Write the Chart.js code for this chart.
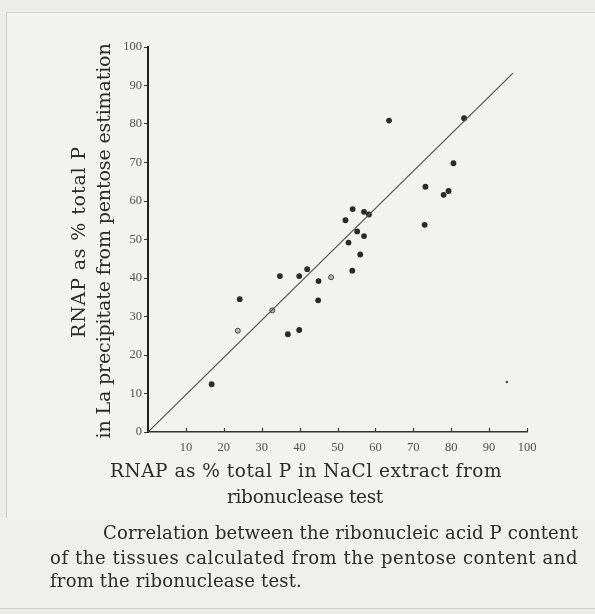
<!DOCTYPE html>
<html>
<head>
<meta charset="utf-8">
<script src="https://cdn.jsdelivr.net/npm/chart.js@4.4.1/dist/chart.umd.min.js"></script>
<style>
  html, body { margin: 0; padding: 0; background: #ececea; }
  #wrap { position: relative; width: 595px; height: 614px; overflow: hidden; }
  #frame { position: absolute; left: 6px; top: 12px; width: 600px; height: 505px;
           border-left: 1px solid #cfcfcd; border-top: 1px solid #d6d6d4; border-bottom: 1px solid #cfcfcd;
           background: #f2f2f0; }
  #capbox { position: absolute; left: 0; top: 518px; width: 595px; height: 90px;
            border-bottom: 1px solid #cfcfcd; background: #efefed; }
  canvas { position: absolute; left: 0; top: 0; }
  .txt { position: absolute; font-family: "DejaVu Serif", serif; color: #2b2b2b;
         white-space: nowrap; line-height: 1; }
</style>
</head>
<body>
<div id="wrap">
  <div id="frame"></div>
  <div id="capbox"></div>
  <canvas id="c" width="595" height="614"></canvas>
</div>
<script>
// ---- data ----
const filledX = [16.8, 24.2, 34.8, 36.9, 39.9, 39.9, 42.0, 45.0, 44.9, 52.1, 52.9, 53.9, 54.0, 55.2, 56.0, 57.0, 57.0, 58.3, 63.6, 73.0, 73.2, 78.0, 79.3, 80.6, 83.4];
const filledY = [12.4, 34.5, 40.5, 25.4, 26.5, 40.5, 42.3, 39.2, 34.2, 55.0, 49.2, 41.9, 57.9, 52.1, 46.1, 50.9, 57.2, 56.5, 80.9, 53.8, 63.7, 61.6, 62.6, 69.8, 81.5];
const openX = [23.7, 32.8, 48.3];
const openY = [26.3, 31.6, 40.2];
const speckX = [94.7];
const speckY = [13.0];
const lineX = [0, 96.3];
const lineY = [0, 93.2];
const xTicks = [10, 20, 30, 40, 50, 60, 70, 80, 90, 100];
const yTicks = [0, 10, 20, 30, 40, 50, 60, 70, 80, 90, 100];
const xTitle = ["RNAP as % total P in NaCl extract from", "ribonuclease test"];
const yTitle = ["RNAP as % total P", "in La precipitate from pentose estimation"];
const caption = ["Correlation between the ribonucleic acid P content",
                 "of the tissues calculated from the pentose content and",
                 "from the ribonuclease test."];

// ---- text placement (layout only) ----
const wrap = document.getElementById('wrap');
function addText(text, o) {
  const d = document.createElement('div');
  d.className = 'txt';
  d.textContent = text;
  d.style.fontSize = o.size + 'px';
  wrap.appendChild(d);
  const natural = d.getBoundingClientRect().width;
  if (o.w) d.style.letterSpacing = ((o.w - natural) / text.length).toFixed(3) + 'px';
  if (o.rot) {
    d.style.left = o.cx + 'px'; d.style.top = o.cy + 'px';
    d.style.transform = 'translate(-50%,-50%) rotate(-90deg)';
  } else if (o.cx !== undefined) {
    d.style.left = o.cx + 'px'; d.style.top = o.cy + 'px';
    d.style.transform = 'translate(-50%,-50%)';
  } else {
    d.style.left = o.x + 'px'; d.style.top = o.cy + 'px';
    d.style.transform = 'translateY(-50%)';
  }
}
addText(yTitle[0], { size: 19, cx: 78, cy: 242, w: 192, rot: true });
addText(yTitle[1], { size: 19, cx: 103, cy: 241, w: 395, rot: true });
addText(xTitle[0], { size: 18.5, cx: 306, cy: 471, w: 392 });
addText(xTitle[1], { size: 18.5, cx: 305, cy: 497, w: 156 });
addText(caption[0], { size: 18, x: 103, cy: 533, w: 475 });
addText(caption[1], { size: 18, x: 50, cy: 558, w: 528 });
addText(caption[2], { size: 18, x: 50, cy: 581, w: 252 });

const pts = (xs, ys) => xs.map((x, i) => ({ x, y: ys[i] }));

const innerTicks = {
  id: 'innerTicks',
  afterDraw(chart) {
    const ctx = chart.ctx, xs = chart.scales.x, ys = chart.scales.y;
    ctx.save();
    ctx.strokeStyle = '#3a3a3a';
    ctx.lineWidth = 1.2;
    xTicks.forEach(v => {
      const px = Math.round(xs.getPixelForValue(v)) + 0.5;
      ctx.beginPath();
      ctx.moveTo(px, ys.bottom);
      ctx.lineTo(px, ys.bottom - 4);
      ctx.stroke();
    });
    ctx.restore();
  }
};

new Chart(document.getElementById('c'), {
  type: 'scatter',
  data: {
    datasets: [
      { type: 'line', data: pts(lineX, lineY), borderColor: '#505050', borderWidth: 1.2,
        pointRadius: 0, fill: false, tension: 0 },
      { data: pts(filledX, filledY), backgroundColor: '#2a2a2a', borderWidth: 0, pointRadius: 2.9 },
      { data: pts(openX, openY), backgroundColor: '#b8b8b8', borderColor: '#444', borderWidth: 1, pointRadius: 2.5 },
      { data: pts(speckX, speckY), backgroundColor: '#444', borderWidth: 0, pointRadius: 1.3 }
    ]
  },
  options: {
    responsive: false,
    animation: false,
    devicePixelRatio: 1,
    layout: { padding: { left: 0, right: 68, top: 47, bottom: 0 } },
    plugins: { legend: { display: false }, tooltip: { enabled: false } },
    scales: {
      x: {
        type: 'linear', min: 0, max: 100,
        afterFit: s => { s.height = 182; },
        afterBuildTicks: s => { s.ticks = xTicks.map(v => ({ value: v })); },
        border: { display: true, color: '#333', width: 1.5 },
        grid: { drawOnChartArea: false, drawTicks: false },
        ticks: { padding: 8, color: '#505050', font: { family: '"Liberation Serif", serif', size: 12.5 },
                 maxRotation: 0, autoSkip: false }
      },
      y: {
        type: 'linear', min: 0, max: 100,
        afterFit: s => { s.width = 148; },
        afterBuildTicks: s => { s.ticks = yTicks.map(v => ({ value: v })); },
        border: { display: true, color: '#222', width: 2 },
        grid: { drawOnChartArea: false, drawTicks: true, tickLength: 4, color: '#333', tickWidth: 1 },
        ticks: { padding: 2, color: '#505050', font: { family: '"Liberation Serif", serif', size: 12.5 }, autoSkip: false }
      }
    }
  },
  plugins: [innerTicks]
});
</script>
</body>
</html>
